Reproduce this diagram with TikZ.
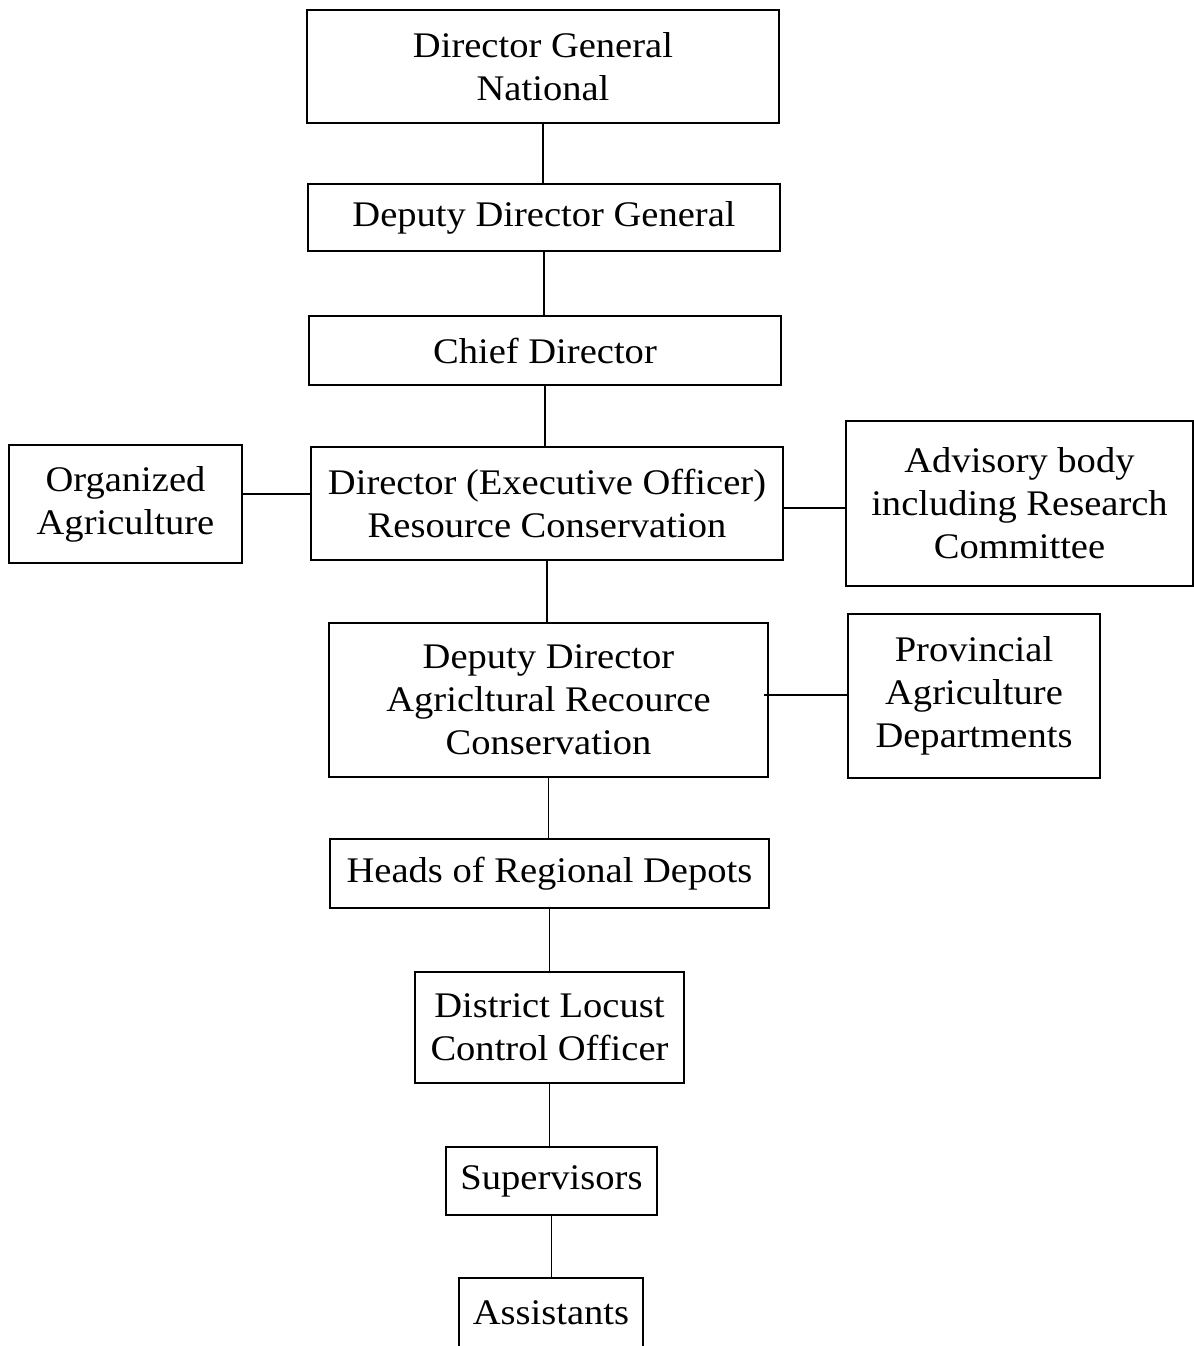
\documentclass[tikz,border=0pt]{standalone}
\usepackage{fontspec}
\setmainfont[FakeStretch=1.07]{Liberation Serif}
\usetikzlibrary{positioning, calc}

\begin{document}
\begin{tikzpicture}[every node/.style={font=\fontsize{20.5}{24.5}\selectfont},
    unit/.style={draw, line width=1.1pt, align=center, inner sep=2pt},
    link/.style={line width=1.1pt}]
    \useasboundingbox (0,0) rectangle (23.86,-26.92);
    % main chain
    \node[unit, minimum width=9.44cm, minimum height=2.26cm] (dg) at (10.86,-1.33) {Director General\\National};
    \node[unit, minimum width=9.44cm, minimum height=1.34cm] (ddg) at (10.88,-4.35) {Deputy Director General};
    \node[unit, minimum width=9.44cm, minimum height=1.38cm] (chief) at (10.90,-7.01) {Chief Director};
    \node[unit, minimum width=9.44cm, minimum height=2.26cm] (dir) at (10.94,-10.07) {Director (Executive Officer)\\Resource Conservation};
    \node[unit, minimum width=8.78cm, minimum height=3.08cm] (dd) at (10.97,-14.00) {Deputy Director\\Agricltural Recource\\Conservation};
    \node[unit, minimum width=8.78cm, minimum height=1.38cm] (heads) at (10.99,-17.47) {Heads of Regional Depots};
    \node[unit, minimum width=5.38cm, minimum height=2.22cm] (dlco) at (10.99,-20.55) {District Locust\\Control Officer};
    \node[unit, minimum width=4.22cm, minimum height=1.36cm] (sup) at (11.03,-23.62) {Supervisors};
    \node[unit, minimum width=3.68cm, minimum height=1.40cm] (asst) at (11.02,-26.26) {Assistants};
    % side bodies
    \node[unit, minimum width=4.66cm, minimum height=2.36cm] (org) at (2.51,-10.08) {Organized\\Agriculture};
    \node[unit, minimum width=6.94cm, minimum height=3.30cm] (adv) at (20.39,-10.07) {Advisory body\\including Research\\Committee};
    \node[unit, minimum width=5.04cm, minimum height=3.28cm] (prov) at (19.48,-13.92) {Provincial\\Agriculture\\Departments};
    % connectors
    \draw[link] (dg.south) -- (dg.south |- ddg.north);
    \draw[link] (ddg.south) -- (ddg.south |- chief.north);
    \draw[link] (chief.south) -- (chief.south |- dir.north);
    \draw[link] (dir.south) -- (dir.south |- dd.north);
    \draw[link] (dd.south) -- (dd.south |- heads.north);
    \draw[link] (heads.south) -- (heads.south |- dlco.north);
    \draw[link] (dlco.south) -- (dlco.south |- sup.north);
    \draw[link] (sup.south) -- (sup.south |- asst.north);
    \draw[link] ([yshift=0.20cm]org.east) -- ([yshift=0.20cm]org.east -| dir.west);
    \draw[link] ([yshift=-0.09cm]dir.east) -- ([yshift=-0.09cm]dir.east -| adv.west);
    \draw[link] ([xshift=-0.1cm,yshift=0.1cm]dd.east) -- ([yshift=0.1cm]dd.east -| prov.west);
\end{tikzpicture}
\end{document}
